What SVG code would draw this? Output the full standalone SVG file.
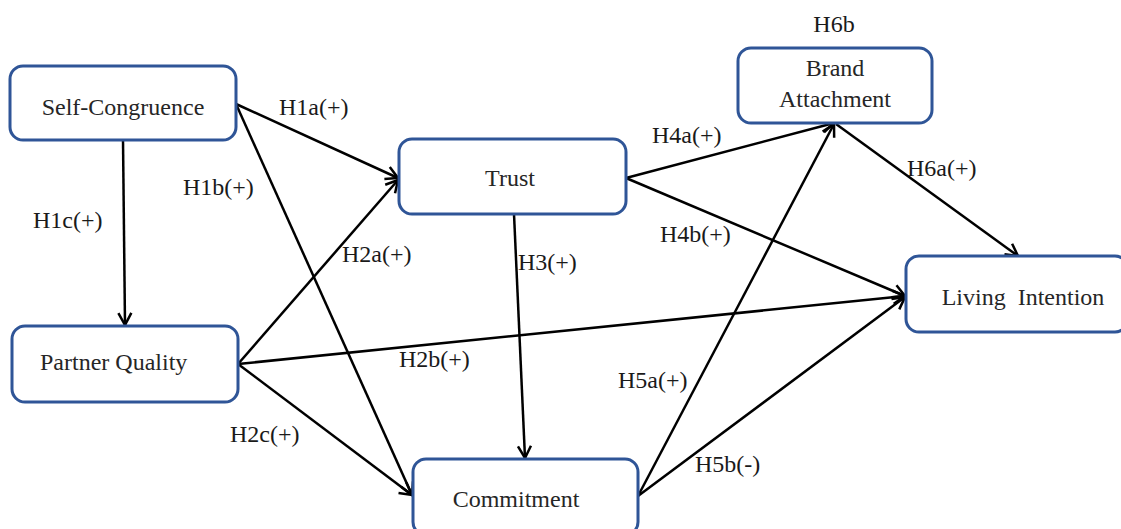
<svg xmlns="http://www.w3.org/2000/svg" width="1121" height="529" viewBox="0 0 1121 529">
<style>
.box{fill:#ffffff;stroke:#2f5597;stroke-width:3}
.t{font-family:'Liberation Serif','Times New Roman','DejaVu Serif',serif;font-size:24px;fill:#262626}
.lab{font-family:'Liberation Serif','Times New Roman','DejaVu Serif',serif;font-size:24px;fill:#1a1a1a}
.c{stroke:#000;stroke-width:2.5;fill:none;marker-end:url(#ah)}
</style>
<defs>
<marker id="ah" markerUnits="userSpaceOnUse" viewBox="-14 -8 16 16" refX="0" refY="0" markerWidth="16" markerHeight="16" orient="auto">
<path d="M-12,-6.5 L0,0 L-12,6.5" fill="none" stroke="#000" stroke-width="2.5"/>
</marker>
</defs>
<rect width="1121" height="529" fill="#ffffff"/>
<g id="connectors">
<line class="c" x1="236" y1="104" x2="398" y2="178"/>
<line class="c" x1="236" y1="104" x2="412" y2="495"/>
<line class="c" x1="123" y1="140" x2="125" y2="325"/>
<line class="c" x1="238" y1="364" x2="398" y2="180"/>
<line class="c" x1="238" y1="364" x2="905" y2="296"/>
<line class="c" x1="238" y1="364" x2="412" y2="495"/>
<line class="c" x1="514" y1="214" x2="525" y2="458"/>
<line class="c" x1="626" y1="178" x2="834" y2="123"/>
<line class="c" x1="626" y1="178" x2="905" y2="296"/>
<line class="c" x1="638" y1="496" x2="834" y2="124"/>
<line class="c" x1="638" y1="496" x2="905" y2="297"/>
<line class="c" x1="836" y1="124" x2="1018" y2="256"/>
<text class="lab" x="279" y="115">H1a(+)</text>
<text class="lab" x="183" y="195">H1b(+)</text>
<text class="lab" x="33" y="228">H1c(+)</text>
<text class="lab" x="342" y="262">H2a(+)</text>
<text class="lab" x="399" y="367">H2b(+)</text>
<text class="lab" x="230" y="442">H2c(+)</text>
<text class="lab" x="518" y="270">H3(+)</text>
<text class="lab" x="652" y="143">H4a(+)</text>
<text class="lab" x="660" y="242">H4b(+)</text>
<text class="lab" x="618" y="388">H5a(+)</text>
<text class="lab" x="695" y="472">H5b(-)</text>
<text class="lab" x="907" y="176">H6a(+)</text>
<text class="lab" x="834" y="32" text-anchor="middle">H6b</text>
</g>
<g id="self-congruence">
<rect class="box" x="10" y="66" width="226" height="74" rx="13"/>
<text class="t" x="123" y="115" text-anchor="middle">Self-Congruence</text>
</g>
<g id="partner-quality">
<rect class="box" x="12" y="326" width="226" height="76" rx="13"/>
<text class="t" x="40" y="370">Partner Quality</text>
</g>
<g id="trust">
<rect class="box" x="399" y="139" width="227" height="75" rx="13"/>
<text class="t" x="510" y="186" text-anchor="middle">Trust</text>
</g>
<g id="brand-attachment">
<rect class="box" x="738" y="48" width="194" height="75" rx="13"/>
<text class="t" x="835" y="76" text-anchor="middle">Brand</text>
<text class="t" x="835" y="107" text-anchor="middle">Attachment</text>
</g>
<g id="living-intention">
<rect class="box" x="906" y="256" width="222" height="76" rx="13"/>
<text class="t" x="1023" y="305" text-anchor="middle" xml:space="preserve">Living  Intention</text>
</g>
<g id="commitment">
<rect class="box" x="413" y="459" width="225" height="76" rx="13"/>
<text class="t" x="516" y="507" text-anchor="middle">Commitment</text>
</g>
</svg>
